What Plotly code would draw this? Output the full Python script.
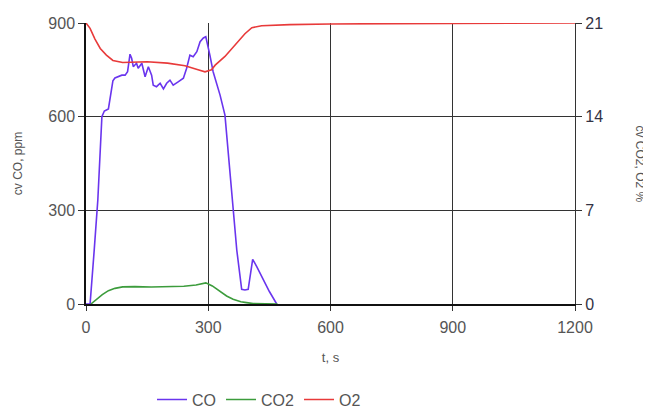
import plotly.graph_objects as go

# CO, ppm (left axis)
co_t = [0, 10, 20, 29, 39, 45, 55, 60, 66, 71, 79, 88, 96, 102, 108, 112, 116, 124, 128, 137,
        145, 153, 161, 165, 173, 182, 190, 198, 206, 214, 227, 239, 247, 255, 263, 272, 280,
        288, 294, 300, 304, 312, 329, 341, 359, 370, 382, 390, 398, 409, 419, 431, 450, 468]
co = [0, 0, 170, 333, 600, 618, 625, 660, 715, 724, 728, 733, 733, 744, 800, 787, 760, 771, 755, 771,
      728, 760, 733, 701, 696, 707, 689, 707, 717, 701, 712, 723, 755, 797, 792, 808, 840,
      852, 856, 825, 797, 744, 669, 605, 333, 173, 47, 45, 47, 143, 120, 87, 40, 0]

# CO2, % (right axis)
co2_t = [12, 25, 40, 55, 71, 90, 120, 160, 200, 240, 270, 285, 294, 310, 329, 345, 361, 380, 394, 410, 470]
co2 = [0, 0.35, 0.7, 1.0, 1.17, 1.28, 1.3, 1.27, 1.28, 1.33, 1.42, 1.55, 1.58, 1.35, 0.92, 0.6, 0.35, 0.17, 0.1, 0.03, 0]

# O2, % (right axis)
o2_t = [0, 10, 22, 35, 50, 66, 90, 120, 150, 200, 243, 275, 292, 308, 317, 341, 366, 390, 407, 431, 500, 600, 900, 1200]
o2 = [21, 20.6, 19.8, 19.1, 18.6, 18.2, 18.05, 18.08, 18.1, 18.0, 17.8, 17.5, 17.35, 17.5, 17.85, 18.5,
      19.35, 20.2, 20.65, 20.8, 20.88, 20.93, 20.97, 21]

x_ticks = [0, 300, 600, 900, 1200]
y_ticks = [0, 300, 600, 900]
y2_ticks = [0, 7, 14, 21]

fig = go.Figure()
fig.add_trace(go.Scatter(x=co_t, y=co, name="CO", mode="lines",
                         line=dict(color="#6a35ee", width=1.6)))
fig.add_trace(go.Scatter(x=co2_t, y=co2, name="CO2", mode="lines", yaxis="y2",
                         line=dict(color="#3c9c3c", width=1.6)))
fig.add_trace(go.Scatter(x=o2_t, y=o2, name="O2", mode="lines", yaxis="y2",
                         line=dict(color="#e83a3a", width=1.6)))

font_family = "Liberation Sans, Arial, sans-serif"

# the page places the figure 8px from the top-left corner
fig.update_layout(
    width=643, height=401,
    margin=dict(l=78, r=76, t=15, b=105, autoexpand=False),
    paper_bgcolor="white", plot_bgcolor="white",
    font=dict(family=font_family, size=16, color="#555"),
    showlegend=True,
    legend=dict(orientation="h", x=0.135, xanchor="left", y=-0.34, yanchor="middle",
                font=dict(size=16, color="#555"), itemwidth=30, tracegroupgap=0),
    xaxis=dict(range=[0, 1200], tickvals=x_ticks, showgrid=True, gridcolor="#333", gridwidth=1.2,
               showline=True, linecolor="#111", linewidth=1.5, ticks="outside", ticklen=5,
               tickcolor="#333", zeroline=False, automargin=False, ticklabelstandoff=3,
               title=dict(text="t, s", font=dict(size=13, color="#555"), standoff=18),
               tickfont=dict(size=16, color="#555")),
    yaxis=dict(range=[0, 900], tickvals=y_ticks, showgrid=True, gridcolor="#333", gridwidth=1.2,
               showline=True, linecolor="#111", linewidth=1.5, ticks="outside", ticklen=6,
               tickcolor="#333", zeroline=False, automargin=False,
               title=dict(text="cv CO, ppm", font=dict(size=12, color="#555"), standoff=23),
               tickfont=dict(size=16, color="#555")),
    yaxis2=dict(range=[0, 21], tickvals=y2_ticks, overlaying="y", side="right", showgrid=False,
                showline=True, linecolor="#333", linewidth=1.2, ticks="outside", ticklen=6,
                tickcolor="#333", zeroline=False, automargin=False,
                tickfont=dict(size=16, color="#334")),
    annotations=[dict(text="cv CO2, O2 %", textangle=90, xref="paper", yref="paper",
                      x=1.133, y=0.5, xanchor="center", yanchor="middle", showarrow=False,
                      font=dict(size=12, color="#555"))],
)

fig.write_html("out.html")
